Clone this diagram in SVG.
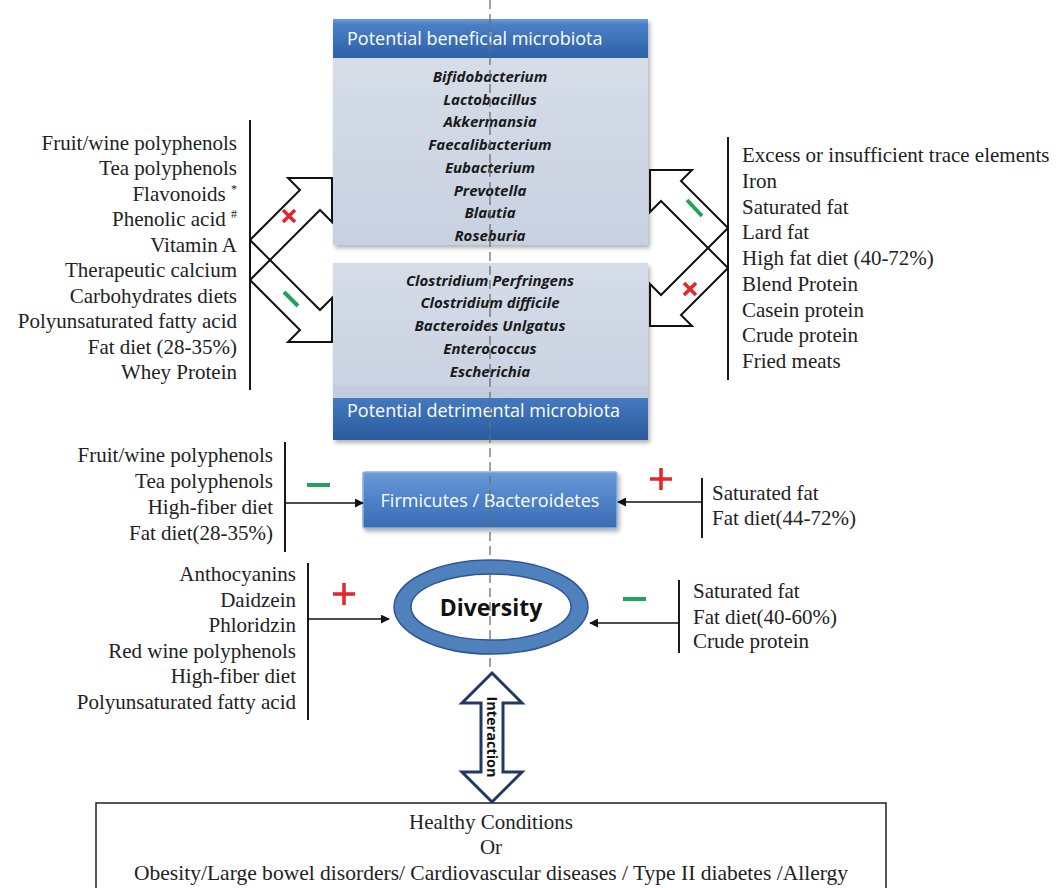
<svg xmlns="http://www.w3.org/2000/svg" width="1058" height="888" viewBox="0 0 1058 888">
<defs>
  <linearGradient id="gHead" x1="0" y1="0" x2="0" y2="1">
    <stop offset="0" stop-color="#6b9bd9"/>
    <stop offset="0.15" stop-color="#4a7fc6"/>
    <stop offset="1" stop-color="#2d61a6"/>
  </linearGradient>
  <linearGradient id="gFoot" x1="0" y1="0" x2="0" y2="1">
    <stop offset="0" stop-color="#4479c0"/>
    <stop offset="1" stop-color="#2a5b9d"/>
  </linearGradient>
  <linearGradient id="gBody" x1="0" y1="0" x2="0" y2="1">
    <stop offset="0" stop-color="#d6dde9"/>
    <stop offset="1" stop-color="#c8d1e0"/>
  </linearGradient>
  <linearGradient id="gFirm" x1="0" y1="0" x2="0" y2="1">
    <stop offset="0" stop-color="#6a9ad8"/>
    <stop offset="0.5" stop-color="#4d82c8"/>
    <stop offset="1" stop-color="#3a6cb2"/>
  </linearGradient>
  <filter id="shadow" x="-10%" y="-10%" width="125%" height="130%">
    <feDropShadow dx="2" dy="3" stdDeviation="2" flood-color="#000" flood-opacity="0.3"/>
  </filter>
  <marker id="arr" viewBox="0 0 10 10" refX="9" refY="5" markerWidth="9" markerHeight="9" markerUnits="userSpaceOnUse" orient="auto">
    <path d="M0,0 L10,5 L0,10 z" fill="#111"/>
  </marker>
  <style>
    .serif { font-family: "Liberation Serif", "Times New Roman", serif; font-size: 21px; fill: #222; }
    .r { text-anchor: end; }
    .bact { font-family: "Open Sans", "Liberation Sans", sans-serif; font-size: 15px; font-weight: bold; font-style: italic; fill: #1a1a1a; text-anchor: middle; }
    .hdr { font-family: "Open Sans", "Liberation Sans", sans-serif; font-size: 18px; fill: #ffffff; }
    .bar { stroke: #1a1a1a; stroke-width: 2; fill: none; }
    .blk { fill: none; stroke: #111; stroke-width: 2; stroke-linejoin: miter; }
    .con { stroke: #111; stroke-width: 1.6; fill: none; marker-end: url(#arr); }
    .red { stroke: #e3262b; stroke-width: 3.5; stroke-linecap: butt; fill: none; }
    .grn { stroke: #21a35c; stroke-width: 4; stroke-linecap: butt; fill: none; }
  </style>
</defs>
<rect width="1058" height="888" fill="#ffffff"/>

<g id="beneficial">
  <g filter="url(#shadow)">
    <rect x="333" y="58" width="315" height="187" fill="url(#gBody)"/>
    <rect x="333" y="19" width="315" height="39" fill="url(#gHead)"/>
  </g>
  <text class="hdr" x="347" y="45">Potential beneficial microbiota</text>
  <text class="bact" x="490" y="82">Bifidobacterium</text>
  <text class="bact" x="490" y="104.5">Lactobacillus</text>
  <text class="bact" x="490" y="127">Akkermansia</text>
  <text class="bact" x="490" y="150">Faecalibacterium</text>
  <text class="bact" x="490" y="173">Eubacterium</text>
  <text class="bact" x="490" y="196">Prevotella</text>
  <text class="bact" x="490" y="218">Blautia</text>
  <text class="bact" x="490" y="241">Roseburia</text>
</g>

<g id="detrimental">
  <g filter="url(#shadow)">
    <rect x="333" y="263" width="315" height="135" fill="url(#gBody)"/>
    <rect x="333" y="386" width="315" height="12" fill="#c3cddd"/>
    <rect x="333" y="398" width="315" height="42" fill="url(#gFoot)"/>
  </g>
  <text class="bact" x="490" y="286">Clostridium Perfringens</text>
  <text class="bact" x="490" y="308">Clostridium difficile</text>
  <text class="bact" x="490" y="331">Bacteroides Unlgatus</text>
  <text class="bact" x="490" y="354">Enterococcus</text>
  <text class="bact" x="490" y="377">Escherichia</text>
  <text class="hdr" x="347" y="417">Potential detrimental microbiota</text>
</g>

<g id="firmicutes">
  <rect x="363" y="472" width="254" height="56" rx="2" fill="url(#gFirm)" stroke="#8fb2e0" stroke-width="1.5" filter="url(#shadow)"/>
  <text class="hdr" x="490" y="506.5" text-anchor="middle">Firmicutes / Bacteroidetes</text>
</g>

<g id="left-diet-1">
  <text class="serif r" x="237" y="150">Fruit/wine polyphenols</text>
  <text class="serif r" x="237" y="175">Tea polyphenols</text>
  <text class="serif r" x="237" y="201">Flavonoids <tspan font-size="12" dy="-8">*</tspan></text>
  <text class="serif r" x="237" y="226">Phenolic acid <tspan font-size="12" dy="-8">#</tspan></text>
  <text class="serif r" x="237" y="252">Vitamin A</text>
  <text class="serif r" x="237" y="277">Therapeutic calcium</text>
  <text class="serif r" x="237" y="303">Carbohydrates diets</text>
  <text class="serif r" x="237" y="328">Polyunsaturated fatty acid</text>
  <text class="serif r" x="237" y="354">Fat diet (28-35%)</text>
  <text class="serif r" x="237" y="379">Whey Protein</text>
</g>

<g id="right-diet-1">
  <text class="serif" x="742" y="162">Excess or insufficient trace elements</text>
  <text class="serif" x="742" y="188">Iron</text>
  <text class="serif" x="742" y="214">Saturated fat</text>
  <text class="serif" x="742" y="239">Lard fat</text>
  <text class="serif" x="742" y="265">High fat diet (40-72%)</text>
  <text class="serif" x="742" y="291">Blend Protein</text>
  <text class="serif" x="742" y="317">Casein protein</text>
  <text class="serif" x="742" y="342">Crude protein</text>
  <text class="serif" x="742" y="368">Fried meats</text>
</g>

<g id="left-diet-2">
  <text class="serif r" x="273" y="462">Fruit/wine polyphenols</text>
  <text class="serif r" x="273" y="488">Tea polyphenols</text>
  <text class="serif r" x="273" y="514">High-fiber diet</text>
  <text class="serif r" x="273" y="540">Fat diet(28-35%)</text>
</g>

<g id="right-diet-2">
  <text class="serif" x="712" y="500">Saturated fat</text>
  <text class="serif" x="712" y="525">Fat diet(44-72%)</text>
</g>

<g id="left-diet-3">
  <text class="serif r" x="296" y="581">Anthocyanins</text>
  <text class="serif r" x="296" y="607">Daidzein</text>
  <text class="serif r" x="296" y="632">Phloridzin</text>
  <text class="serif r" x="296" y="658">Red wine polyphenols</text>
  <text class="serif r" x="296" y="683">High-fiber diet</text>
  <text class="serif r" x="296" y="709">Polyunsaturated fatty acid</text>
</g>

<g id="right-diet-3">
  <text class="serif" x="693" y="598">Saturated fat</text>
  <text class="serif" x="693" y="624">Fat diet(40-60%)</text>
  <text class="serif" x="693" y="648">Crude protein</text>
</g>

<g id="connectors">
  <line class="bar" x1="250" y1="120" x2="250" y2="390"/>
  <line class="bar" x1="728" y1="137" x2="728" y2="380"/>
  <line class="bar" x1="285" y1="442" x2="285" y2="552"/>
  <line class="bar" x1="702" y1="478" x2="702" y2="538"/>
  <line class="bar" x1="308" y1="563" x2="308" y2="720"/>
  <line class="bar" x1="679" y1="580" x2="679" y2="653"/>

  <polygon class="blk" points="250,240 300,190 288,178 332,178 332,222 320,210 250,280"/>
  <polygon class="blk" points="250,280 300,330 288,342 332,342 332,298 320,310 250,240"/>
  <polygon class="blk" points="728,228 681,181 692,170 650,170 650,212 661,201 728,268"/>
  <polygon class="blk" points="728,268 681,315 692,326 650,326 650,284 661,295 728,228"/>

  <line class="con" x1="285" y1="503" x2="363" y2="503"/>
  <line class="con" x1="702" y1="502" x2="618" y2="502"/>
  <line class="con" x1="308" y1="619" x2="389" y2="619"/>
  <line class="con" x1="679" y1="623" x2="590" y2="623"/>

  <path class="red" d="M283,210 L295,222 M295,210 L283,222"/>
  <path class="grn" d="M284,292 L298,306"/>
  <path class="grn" d="M687,200 L702,216"/>
  <path class="red" d="M684,283 L696,295 M696,283 L684,295"/>

  <path class="red" stroke-width="4" d="M333,594 L355,594 M344,583 L344,605"/>
  <path class="grn" d="M307,485 L330,485"/>
  <path class="red" stroke-width="4" d="M650,479 L672,479 M661,468 L661,490"/>
  <path class="grn" d="M623,599 L646,599"/>

  <line x1="490" y1="0" x2="490" y2="672" stroke="#6e6e6e" stroke-width="1.5" stroke-dasharray="9 5" opacity="0.85"/>

  <polygon points="492,673 522,703 503,703 503,772 522,772 492,802 462,772 481,772 481,703 462,703" fill="#ffffff" stroke="#1f3864" stroke-width="3" stroke-linejoin="miter"/>
</g>

<g id="diversity">
  <path d="M394,607 a97,47 0 1,0 194,0 a97,47 0 1,0 -194,0 z M411,607 a80,33 0 1,0 160,0 a80,33 0 1,0 -160,0 z" fill="#4f81bd" fill-rule="evenodd" stroke="#2f5597" stroke-width="1.5"/>
  <text x="491" y="616" text-anchor="middle" font-family="Open Sans, Liberation Sans, sans-serif" font-size="23" font-weight="bold" fill="#111">Diversity</text>
</g>

<g id="interaction">
  <text transform="translate(492,737) rotate(90)" text-anchor="middle" dominant-baseline="central" font-family="Open Sans, Liberation Sans, sans-serif" font-size="14.5" font-weight="bold" fill="#111">Interaction</text>
</g>

<g id="conditions">
  <rect x="96" y="803" width="790" height="100" fill="#ffffff" stroke="#222" stroke-width="1.5"/>
  <text class="serif" x="491" y="829" text-anchor="middle">Healthy Conditions</text>
  <text class="serif" x="491" y="854" text-anchor="middle">Or</text>
  <text class="serif" x="491" y="880" text-anchor="middle" textLength="714" lengthAdjust="spacingAndGlyphs">Obesity/Large bowel disorders/ Cardiovascular diseases / Type II diabetes /Allergy</text>
</g>
</svg>
